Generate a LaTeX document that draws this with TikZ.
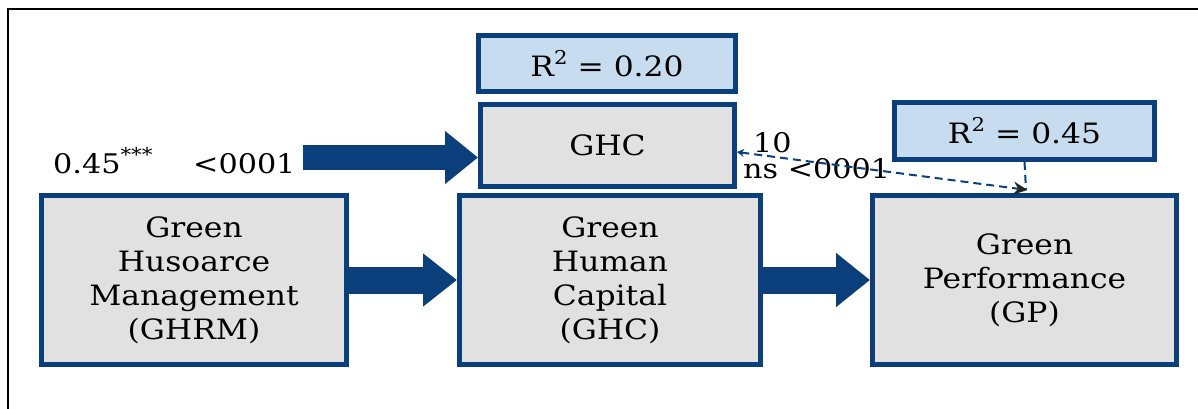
\documentclass[tikz,border=0pt]{standalone}
\usepackage{fontspec}
\setmainfont{DejaVu Serif}[FakeStretch=1.12]
\usetikzlibrary{arrows.meta}
\definecolor{navy}{HTML}{0B3F7B}
\definecolor{boxgray}{HTML}{E1E1E1}
\definecolor{paleblue}{HTML}{C7DCEF}
\newcommand{\upidx}[1]{\raisebox{0.42em}{\fontsize{19}{19}\selectfont #1}}
\tikzset{
  construct/.style={rectangle, draw=navy, fill=boxgray, line width=5pt, inner sep=0pt,
    align=center, font=\fontsize{28}{34}\selectfont},
  rsqbox/.style={rectangle, draw=navy, fill=paleblue, line width=5pt, inner sep=0pt,
    font=\fontsize{28}{32}\selectfont},
  coef/.style={inner sep=0pt, font=\fontsize{27}{32}\selectfont},
  fatarrow/.style={draw=navy, line cap=butt},
  pathdash/.style={draw=navy, line width=2pt, dash pattern=on 8pt off 5pt}
}
\begin{document}
\begin{tikzpicture}[x=1pt, y=-1pt]
    \useasboundingbox (0,0) rectangle (1198,409);
    \draw[line width=2pt] (8,409) -- (8,9) -- (1198,9);
    % boxes
    \node[construct, minimum width=305pt, minimum height=169pt] (ghrm) at (194,280) {Green\\Husoarce\\Management\\(GHRM)};
    \node[construct, minimum width=301pt, minimum height=169pt] (hc) at (610,280) {Green\\Human\\Capital\\(GHC)};
    \node[construct, minimum width=304pt, minimum height=169pt] (gp) at (1024.5,280) {Green\\Performance\\(GP)};
    \node[construct, minimum width=254pt, minimum height=82pt] (ghc) at (607.5,145.5) {GHC};
    \node[rsqbox, minimum width=257pt, minimum height=56pt] (rsqa) at (607,63.5) {R\upidx{2} = 0.20};
    \node[rsqbox, minimum width=260pt, minimum height=57pt] (rsqb) at (1024.5,131) {R\upidx{2} = 0.45};
    % labels
    \node[coef, anchor=base west] (beta) at (53,173) {0.45\upidx{***}};
    \node[coef, anchor=base west] (pval) at (193,173) {<0001};
    \node[coef, anchor=base west] (ten) at (753,152) {10};
    \node[coef, anchor=base west] (ns) at (743,178) {ns <0001};
    \coordinate (src) at (303,157.5);
    % thick arrows
    \draw[fatarrow, line width=25pt, -{Triangle[length=33pt, width=51pt]}] (src) -- (src -| ghc.west);
    \draw[fatarrow, line width=27pt, -{Triangle[length=34pt, width=51pt]}] (ghrm.east) -- (hc.west);
    \draw[fatarrow, line width=27pt, -{Triangle[length=34pt, width=52pt]}] (hc.east) -- (gp.west);
    % dashed paths
    \draw[pathdash, {Stealth[length=7pt, width=8pt]}-{Stealth[length=14pt, width=13pt, color=black!85]}] ([yshift=-6.5pt]ghc.east) -- ([xshift=3pt, yshift=3pt]gp.north);
    \draw[pathdash] (rsqb.south) -- ([xshift=1.5pt, yshift=3pt]gp.north);
\end{tikzpicture}
\end{document}
